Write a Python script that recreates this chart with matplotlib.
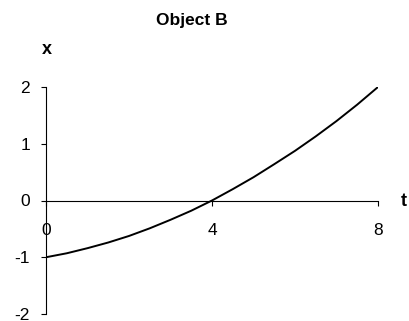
import matplotlib
matplotlib.use('Agg')
import matplotlib.pyplot as plt

# values
t_vals = [0, 0.5, 1, 1.5, 2, 2.5, 3, 3.5, 4, 4.5, 5, 5.5, 6, 6.5, 7, 7.5, 8]
x_vals = [-1.0, -0.93, -0.84, -0.74, -0.625, -0.49, -0.34, -0.18, 0.0,
          0.20, 0.41, 0.64, 0.875, 1.13, 1.4, 1.69, 2.0]
x_ticks = [4, 8]
y_ticks = [-2, -1, 0, 1, 2]

plt.rcParams['font.family'] = ['Liberation Sans', 'DejaVu Sans']

fig = plt.figure(figsize=(4.09, 3.21), dpi=100)
ax = fig.add_axes([46 / 409, 7 / 321, (378 - 46) / 409, (314 - 87) / 321])

ax.plot(t_vals, x_vals, color='black', linewidth=1.4)

ax.set_xlim(0, 8)
ax.set_ylim(-2, 2)
ax.spines['top'].set_visible(False)
ax.spines['right'].set_visible(False)
ax.spines['bottom'].set_position(('data', 0))
for s in ('left', 'bottom'):
    ax.spines[s].set_linewidth(0.8)

ax.set_xticks([0] + x_ticks)
ax.set_xticklabels(['0'] + [str(v) for v in x_ticks])
ax.set_yticks(y_ticks)
ax.set_yticklabels([str(v) for v in y_ticks])
ax.tick_params(axis='x', direction='out', length=3.5, width=0.8, pad=13, labelsize=12.5)
ax.tick_params(axis='y', direction='out', length=3.5, width=0.8, pad=8, labelsize=12.5)

fig.text(192 / 409, 1 - 20 / 321, 'Object B', ha='center', va='center',
         fontsize=12.5, fontweight='bold')
fig.text(47 / 409, 1 - 50 / 321, 'x', ha='center', va='center',
         fontsize=13, fontweight='bold')
fig.text(404 / 409, 1 - 202 / 321, 't', ha='center', va='center',
         fontsize=13, fontweight='bold')

fig.savefig('out.png', dpi=100)
